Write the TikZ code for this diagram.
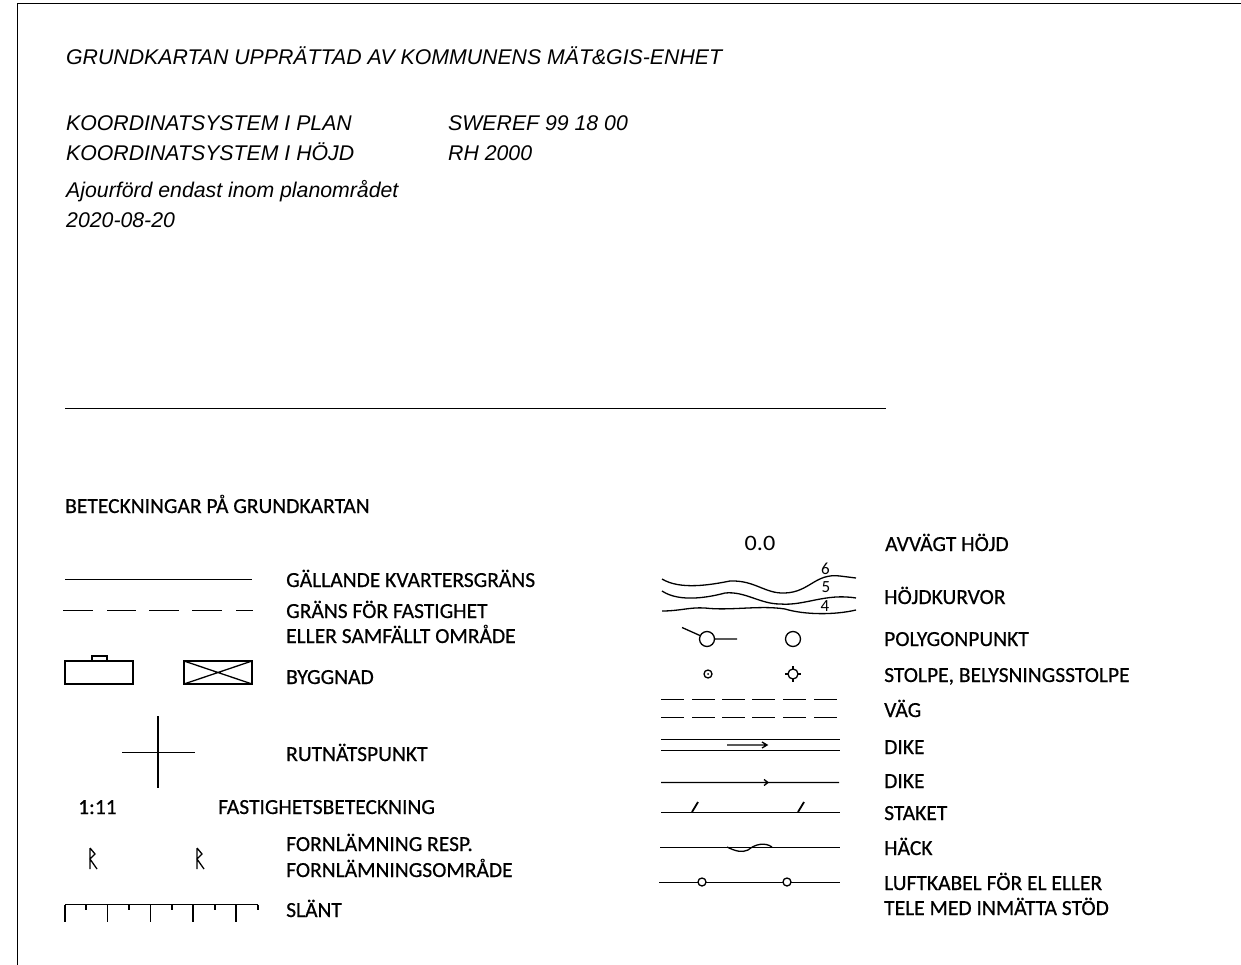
\documentclass[tikz,border=0pt]{standalone}
\usepackage{fontspec}
\setmainfont{Liberation Sans}
\newfontfamily\lab[FakeBold=0.5]{Carlito}
\newfontfamily\cad{Carlito}
\begin{document}
\begin{tikzpicture}[x=1pt,y=-1pt,
  it/.style={inner sep=0pt,anchor=base west,font=\fontsize{21.27}{24}\selectfont\itshape},
  lb/.style={inner sep=0pt,anchor=base west,font=\lab\fontsize{21.5}{24}\selectfont},
  sym/.style={line width=1.4pt,black},
  thin sym/.style={line width=1.3pt,black},
  dig/.style={inner sep=0pt,font=\cad\fontsize{17}{18}\selectfont}]
\useasboundingbox (0,0) rectangle (1241,965);
\draw[line width=1pt] (17.5,965) -- (17.5,3.5) -- (1241,3.5);
\node[it] (t1) at (66,65) {GRUNDKARTAN UPPRÄTTAD AV KOMMUNENS MÄT\&GIS-ENHET};
\node[it] (t2) at (66,130.5) {KOORDINATSYSTEM I PLAN};
\node[it] (t3) at (448,130.5) {SWEREF 99 18 00};
\node[it] (t4) at (66,160.5) {KOORDINATSYSTEM I HÖJD};
\node[it] (t5) at (448,160.5) {RH 2000};
\node[it] (t6) at (66,198) {Ajourförd endast inom planområdet};
\node[it] (t7) at (66,228) {2020-08-20};
\draw[line width=1pt] (65,408.5) -- (886,408.5);
\node[lb] (h) at (65,513) {BETECKNINGAR PÅ GRUNDKARTAN};
\node[lb] (l1) at (286,587) {GÄLLANDE KVARTERSGRÄNS};
\node[lb] (l2) at (286,618) {GRÄNS FÖR FASTIGHET};
\node[lb] (l3) at (286,643) {ELLER SAMFÄLLT OMRÅDE};
\node[lb] (l4) at (286,684) {BYGGNAD};
\node[lb] (l5) at (286,761) {RUTNÄTSPUNKT};
\node[lb] (l6) at (78,814) {1:11};
\node[lb] (l7) at (218,814) {FASTIGHETSBETECKNING};
\node[lb] (l8) at (286,851) {FORNLÄMNING RESP.};
\node[lb] (l9) at (286,877) {FORNLÄMNINGSOMRÅDE};
\node[lb] (l10) at (286,917) {SLÄNT};
\node[lb] (r1) at (885,551) {AVVÄGT HÖJD};
\node[lb] (r2) at (884,604) {HÖJDKURVOR};
\node[lb] (r3) at (884,646) {POLYGONPUNKT};
\node[lb] (r4) at (884,682) {STOLPE, BELYSNINGSSTOLPE};
\node[lb] (r5) at (884,717) {VÄG};
\node[lb] (r6) at (884,754) {DIKE};
\node[lb] (r7) at (884,788) {DIKE};
\node[lb] (r8) at (884,820) {STAKET};
\node[lb] (r9) at (884,855) {HÄCK};
\node[lb] (r10) at (884,890) {LUFTKABEL FÖR EL ELLER};
\node[lb] (r11) at (884,915) {TELE MED INMÄTTA STÖD};
% left symbols
\draw[sym] (65,579.5) -- (252,579.5);
\draw[thin sym] (63,610.5)--(93,610.5) (107,610.5)--(136,610.5) (149,610.5)--(179,610.5) (192,610.5)--(222,610.5) (236,610.5)--(253,610.5);
\draw[thin sym] (65,661) rectangle (133,684);
\draw[thin sym] (92,661) -- (92,656) -- (107,656) -- (107,661);
\draw[sym] (184,661) rectangle (252,684);
\draw[thin sym] (184,661) -- (252,684) (184,684) -- (252,661);
\draw[thin sym] (158,716) -- (158,788) (122,752.5) -- (195,752.5);
\foreach \x in {90,197}{
  \draw[thin sym] (\x,848) -- (\x,869) (\x,848) -- (\x+5,854) -- (\x,859) -- (\x+7,869);
}
\draw[thin sym] (65,904.5) -- (258,904.5);
\foreach \x in {65,107.5,150.5,193,236}{\draw[thin sym] (\x,904.5) -- (\x,922);}
\foreach \x in {86,129,172,215,258}{\draw[thin sym] (\x,904.5) -- (\x,910);}
% right symbols
\node[inner sep=0pt,anchor=base,font=\cad\fontsize{22}{24}\selectfont,xscale=1.1] (v0) at (760,550.5) {0.0};
\draw[thin sym] (662,579) .. controls (680,590) and (710,585) .. (730,581) .. controls (755,580) and (765,594) .. (785,593) .. controls (810,592) and (815,573) .. (840,576) -- (856,578);
\draw[thin sym] (662,591) .. controls (680,603) and (710,597) .. (725,593) .. controls (745,591) and (760,604) .. (780,604) .. controls (805,606) and (825,593) .. (856,598);
\draw[thin sym] (662,611) .. controls (680,611) and (690,607) .. (705,608) .. controls (730,611) and (760,605) .. (785,609) .. controls (805,615) and (835,615) .. (856,610);
\node[dig] (c6) at (825.5,568.5) {6};
\node[dig] (c5) at (826,587.5) {5};
\node[dig] (c4) at (825,606) {4};
\draw[thin sym] (707,639) circle (7.5) (682,627.5) -- (701,636) (715,639) -- (737,639);
\draw[thin sym] (793,639) circle (7.5);
\draw[thin sym] (708,674) circle (4);
\fill (708,674) circle (1);
\draw[thin sym] (793,674) circle (5);
\draw[line width=1.8pt] (793,666) -- (793,669) (793,679) -- (793,682) (785,674) -- (788,674) (798,674) -- (801,674);
\foreach \y in {699.5,717.5}{
 \foreach \x in {661,692,722,752,783,814}{\draw[thin sym] (\x,\y) -- (\x+23,\y);}
}
\draw[thin sym] (661,739.5) -- (840,739.5) (661,750.5) -- (840,750.5);
\draw[thin sym] (727,745) -- (767,745) (762,742) -- (767,745) -- (762,748);
\draw[thin sym] (661,782.5) -- (839,782.5) (764,779.5) -- (768,782.5) -- (764,785.5);
\draw[thin sym] (661,812.5) -- (840,812.5);
\draw[line width=1.8pt] (692,812) -- (698,802) (798,812) -- (804,802);
\draw[thin sym] (660,847.5) -- (840,847.5);
\draw[thin sym] (727,847) .. controls (735,851) and (742,853) .. (748,850) .. controls (755,844) and (765,842) .. (772,847);
\draw[thin sym] (659,882.5) -- (840,882.5);
\draw[thin sym,fill=white] (702,882) circle (4) (787,882) circle (4);
\end{tikzpicture}
\end{document}
